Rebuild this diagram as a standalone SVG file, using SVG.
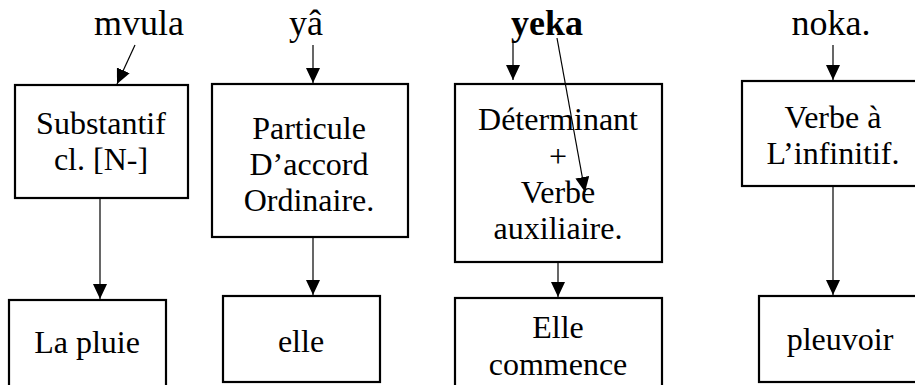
<svg xmlns="http://www.w3.org/2000/svg" width="915" height="385" viewBox="0 0 915 385">
<style>
.box{fill:#fff;stroke:#000;stroke-width:2.2}
text{font-family:"Liberation Serif","Times New Roman",serif;fill:#000;text-anchor:middle}
.t{font-size:32px}
.lbl{font-size:36px}
.b{font-weight:bold}
.c{stroke:#000;stroke-width:1.2;fill:none;marker-end:url(#ah)}
</style>
<defs>
<marker id="ah" viewBox="0 0 15 14" markerWidth="15" markerHeight="14" refX="15" refY="7" orient="auto" markerUnits="userSpaceOnUse">
<path d="M0,0 L15,7 L0,14 z" fill="#000"/>
</marker>
</defs>
<g id="labels">
<text class="lbl" x="139" y="35">mvula</text>
<text class="lbl" x="306" y="35">yâ</text>
<text class="lbl b" x="547" y="35">yeka</text>
<text class="lbl" x="831" y="35">noka.</text>
</g>
<g id="n1">
<rect class="box" x="15" y="85" width="173" height="113"/>
<text class="t" x="101" y="134">Substantif</text>
<text class="t" x="101" y="170">cl. [N-]</text>
</g>
<g id="n2">
<rect class="box" x="212" y="84" width="196" height="153"/>
<text class="t" x="309" y="139">Particule</text>
<text class="t" x="309" y="175">D’accord</text>
<text class="t" x="309" y="211">Ordinaire.</text>
</g>
<g id="n3">
<rect class="box" x="455" y="84" width="207" height="178"/>
<text class="t" x="558" y="130">Déterminant</text>
<text class="t" x="558" y="167">+</text>
<text class="t" x="558" y="203">Verbe</text>
<text class="t" x="558" y="239">auxiliaire.</text>
</g>
<g id="n4">
<rect class="box" x="742" y="81" width="183" height="105"/>
<text class="t" x="833" y="128">Verbe à</text>
<text class="t" x="833" y="164">L’infinitif.</text>
</g>
<g id="n5">
<rect class="box" x="9" y="300" width="157" height="100"/>
<text class="t" x="87" y="353">La pluie</text>
</g>
<g id="n6">
<rect class="box" x="223" y="296" width="157" height="86"/>
<text class="t" x="301" y="352">elle</text>
</g>
<g id="n7">
<rect class="box" x="455" y="298" width="207" height="100"/>
<text class="t" x="558" y="338">Elle</text>
<text class="t" x="558" y="375">commence</text>
</g>
<g id="n8">
<rect class="box" x="759" y="296" width="166" height="86"/>
<text class="t" x="840" y="350">pleuvoir</text>
</g>
<g id="connectors">
<line class="c" x1="135" y1="45" x2="117" y2="84"/>
<line class="c" x1="313" y1="45" x2="313" y2="83"/>
<line class="c" x1="513" y1="42" x2="513" y2="80"/>
<line class="c" x1="557" y1="38" x2="585" y2="192"/>
<line class="c" x1="833" y1="45" x2="833" y2="80"/>
<line class="c" x1="100" y1="199" x2="100" y2="299"/>
<line class="c" x1="313" y1="238" x2="313" y2="295"/>
<line class="c" x1="558" y1="263" x2="558" y2="297"/>
<line class="c" x1="833" y1="187" x2="833" y2="295"/>
</g>
</svg>
